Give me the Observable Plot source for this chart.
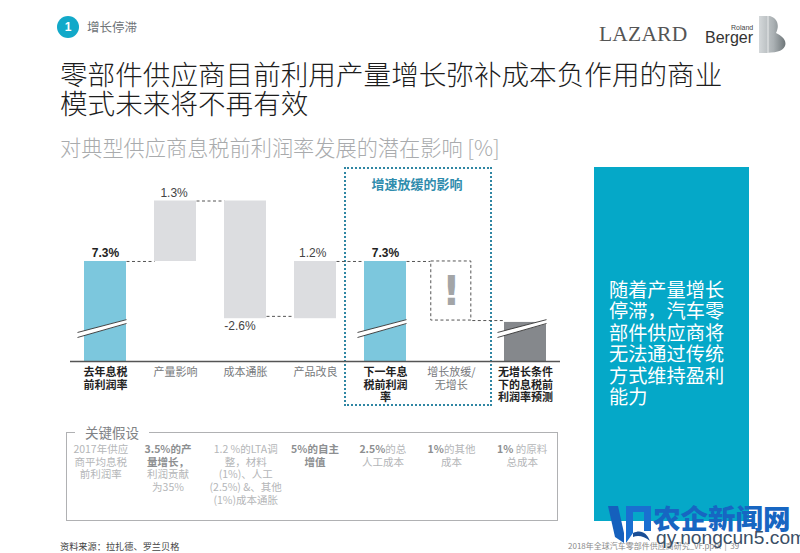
<!DOCTYPE html>
<html><head><meta charset="utf-8">
<script src="https://cdn.jsdelivr.net/npm/d3@7"></script>
<script src="https://cdn.jsdelivr.net/npm/@observablehq/plot@0.6"></script>
<style>
html,body{margin:0;padding:0;background:#fff;width:800px;height:553px;overflow:hidden}
body{position:relative;font-family:"Noto Sans CJK SC","Liberation Sans",sans-serif}
.a{position:absolute;white-space:nowrap}
#chart{position:absolute;left:0;top:0}
#chart svg{background:transparent;display:block}
.col{position:absolute;top:443px;transform:translateX(-50%);text-align:center;white-space:pre;font-size:10.5px;line-height:12.7px;color:#b4b6b8}
.col b{color:#8d8f91;font-weight:700}
</style></head><body>
<div class="a" style="left:57px;top:16px;width:22px;height:22px;border-radius:50%;background:#12a9c9;color:#fff;font:bold 12px/22px 'Liberation Sans';text-align:center">1</div>
<div class="a" style="left:87px;top:18px;font-size:12.5px;line-height:18px;color:#6f7478">增长停滞</div>
<div class="a" style="left:599px;top:20px;font:21.5px/28px 'Liberation Serif';color:#555;letter-spacing:.2px">LAZARD</div>
<div class="a" style="left:731px;top:23px;font:7px/9px 'Liberation Sans';color:#444">Roland</div>
<div class="a" style="left:705px;top:28px;font:16px/19px 'Liberation Sans';color:#333">Berger</div>
<svg class="a" style="left:757px;top:15px" width="30" height="39" viewBox="0 0 30 39">
<defs><linearGradient id="g" x1="0" x2="1"><stop offset="0" stop-color="#d4d8da"/><stop offset=".55" stop-color="#aab0b3"/><stop offset="1" stop-color="#6e7679"/></linearGradient></defs>
<path d="M2 1H13C20 3 23 10 19 18C25 21 30 25 28 31C25 37 18 38 2 38Z" fill="url(#g)"/>
<path d="M11 1V38" stroke="#fff" stroke-width="1" opacity=".7"/></svg>
<div class="a" style="left:60px;top:59px;font-size:27.6px;line-height:29px;font-weight:300;color:#1c1c1c">零部件供应商目前利用产量增长弥补成本负作用的商业<br>模式未来将不再有效</div>
<div class="a" style="left:60px;top:133px;font-size:21.2px;line-height:28px;font-weight:300;color:#a9abad">对典型供应商息税前利润率发展的潜在影响 [%]</div>

<div class="a" style="left:594px;top:167px;width:155px;height:354px;background:#05a8c8"></div>
<div class="a" style="left:609px;top:279px;font-size:19.2px;line-height:21.4px;color:#fff">随着产量增长<br>停滞，汽车零<br>部件供应商将<br>无法通过传统<br>方式维持盈利<br>能力</div>

<div class="a" style="left:344px;top:167px;width:144px;height:235px;border:2px dotted #2f86a3"></div>
<div class="a" style="left:344px;top:175px;width:146px;text-align:center;font-size:13px;line-height:18px;font-weight:700;color:#2f8cad">增速放缓的影响</div>

<div class="a" style="left:66px;top:432px;width:490px;height:87px;border:1.5px solid #b0b1b3"></div>
<div class="a" style="left:75px;top:423px;padding:0 10px;background:#fff;font-size:13.5px;line-height:18px;color:#808285">关键假设</div>

<div id="chart"></div>

<div class="a" style="left:60px;top:539px;font-size:9.2px;line-height:14px;color:#444">资料来源：拉扎德、罗兰贝格</div>
<div class="a" style="left:568px;top:540px;font-size:8px;line-height:12px;color:#8a8a8a">2018年全球汽车零部件供应商研究_vF.pptx &nbsp;|&nbsp; 39</div>

<svg class="a" style="left:607px;top:503px" width="46" height="44" viewBox="0 0 46 44">
<path d="M1 3H11L17 30V40L8 34Z" fill="#1560bd"/><path d="M19 3H44V28L37 28V9H26V30L19 40Z" fill="#1a6fd0"/><path d="M26 30C34 26 40 30 43 38C37 33 31 32 26 34Z" fill="#1a4e96"/>
</svg>
<div class="a" style="left:653px;top:499px;font-size:27.5px;line-height:36px;font-weight:900;color:#1766c2">农企新闻网</div>
<div class="a" style="left:656px;top:527px;font:19.2px/22px 'Liberation Sans';color:#3b4f66">qy.nongcun5.com</div>

<script>
const categories = ["去年息税\n前利润率","产量影响","成本通胀","产品改良","下一年息\n税前利润\n率","增长放缓/\n无增长","无增长条件\n下的息税前\n利润率预测"];
const slots      = [0,1,2,3,4,4.94,6];
const barFrom    = [5.15,7.3,8.6,6.07,5.15,7.3,5.15];
const barTo      = [7.3,8.6,6.07,7.3,7.3,6.03,5.99];
const barFill    = ["#7cc7dd","#dcdde0","#dcdde0","#dcdde0","#7cc7dd",null,"#85888c"];
const boldLabel  = [true,false,false,false,true,false,true];
const valueLabels= ["7.3%","1.3%","-2.6%","1.2%","7.3%",null,null];
const valueSlot  = [0,0.98,1.92,2.96,4,null,null];
const valueAt    = [7.3,8.6,6.07,7.3,7.3,null,null];
const valueBold  = [true,false,false,false,true,false,false];
const connectFrom= [0,1,2,3,4,5];
const connectAt  = [7.3,8.6,6.12,7.3,7.3,6.03];
const breakBars  = [0,4,6];
const breakEdges = [[5.774,6.05],[5.666,5.967]];
const assumptionSlot = [-0.06,0.9,2.01,3,3.97,4.95,5.96];
const assumptionBold = ["","3.5%的产\n量增长，\n","","5%的自主\n增值","2.5%","1%","1%"];
const assumptionRest = ["2017年供应\n商平均息税\n前利润率","利润贡献\n为35%","1.2 %的LTA调\n整，材料\n(1%)、人工\n(2.5%) &、其他\n(1%)成本通胀","","的总\n人工成本","的其他\n成本"," 的原料\n总成本"];

const bars = categories.map((c,i)=>({c,x:slots[i],from:barFrom[i],to:barTo[i],fill:barFill[i],bold:boldLabel[i]}));
const solid = bars.filter(d=>d.fill);
const links = connectFrom.map((i,k)=>({x1:slots[i]+0.3,x2:slots[i+1]-0.3,y:connectAt[k]}));
const values = valueLabels.map((t,i)=>({t,x:valueSlot[i],y:valueAt[i],bold:valueBold[i],neg:t&&t[0]==="-"})).filter(d=>d.t);
const breaks = breakBars.map(i=>({x1:slots[i]-0.4,x2:slots[i]+0.3}));
const font = '"Noto Sans CJK SC","Liberation Sans",sans-serif';
const latin = '"Liberation Sans",sans-serif';
const floor = 5.15;

const plot = Plot.plot({
  width:800,height:553,margin:0,
  x:{type:"linear",domain:[0,6],range:[105,525],axis:null},
  y:{type:"linear",domain:[5.15,8.6],range:[361,200.5],axis:null},
  marks:[
    Plot.link(links,{x1:"x1",x2:"x2",y1:"y",y2:"y",stroke:"#555",strokeWidth:1,strokeDasharray:"3,2.5"}),
    Plot.rect(solid,{x1:d=>d.x-0.3,x2:d=>d.x+0.3,y1:"from",y2:"to",fill:"fill"}),
    Plot.rect(bars.filter(d=>!d.fill),{x1:d=>d.x-0.286,x2:d=>d.x+0.286,y1:"from",y2:"to",fill:"none",stroke:"#555",strokeWidth:1,strokeDasharray:"3,2.5"}),
    Plot.link(breaks,{x1:"x1",x2:"x2",y1:(breakEdges[0][0]+breakEdges[1][0])/2,y2:(breakEdges[0][1]+breakEdges[1][1])/2,stroke:"#fff",strokeWidth:4.5}),
    ...breakEdges.map(e=>Plot.link(breaks,{x1:"x1",x2:"x2",y1:e[0],y2:e[1],stroke:"#333",strokeWidth:.9})),
    Plot.ruleY([floor],{x1:-0.5,x2:6.5,stroke:"#555",strokeWidth:1.5}),
    Plot.text(values.filter(d=>!d.bold&&!d.neg),{x:"x",y:"y",text:"t",dy:-8,fontFamily:latin,fontSize:12,fill:"#444"}),
    Plot.text(values.filter(d=>d.neg),{x:"x",y:"y",text:"t",dy:7,fontFamily:latin,fontSize:12,fill:"#444"}),
    Plot.text(values.filter(d=>d.bold),{x:"x",y:"y",text:"t",dy:-8,fontFamily:latin,fontSize:12,fontWeight:"bold",fill:"#222"}),
    Plot.text(bars.filter(d=>d.bold),{x:"x",y:floor,text:"c",dy:6,lineAnchor:"top",lineHeight:1.13,fontFamily:font,fontSize:11,fontWeight:"bold",fill:"#222"}),
    Plot.text(bars.filter(d=>!d.bold),{x:"x",y:floor,text:"c",dy:6,lineAnchor:"top",lineHeight:1.13,fontFamily:font,fontSize:11,fill:"#77797c"}),
    Plot.text(["!"],{x:slots[5],y:(barFrom[5]+barTo[5])/2,dy:1,fontFamily:'"DejaVu Sans",sans-serif',fontSize:40,fontWeight:"bold",fill:"#a3a5a7"})
  ]
});
document.getElementById("chart").appendChild(plot);
const sx = plot.scale("x");
assumptionSlot.forEach((s,i)=>{
  const d = document.createElement("div");
  d.className = "col";
  d.style.left = sx.apply(s)+"px";
  const b = document.createElement("b"); b.textContent = assumptionBold[i];
  d.appendChild(b);
  d.appendChild(document.createTextNode(assumptionRest[i]));
  document.body.appendChild(d);
});
</script>
</body></html>
